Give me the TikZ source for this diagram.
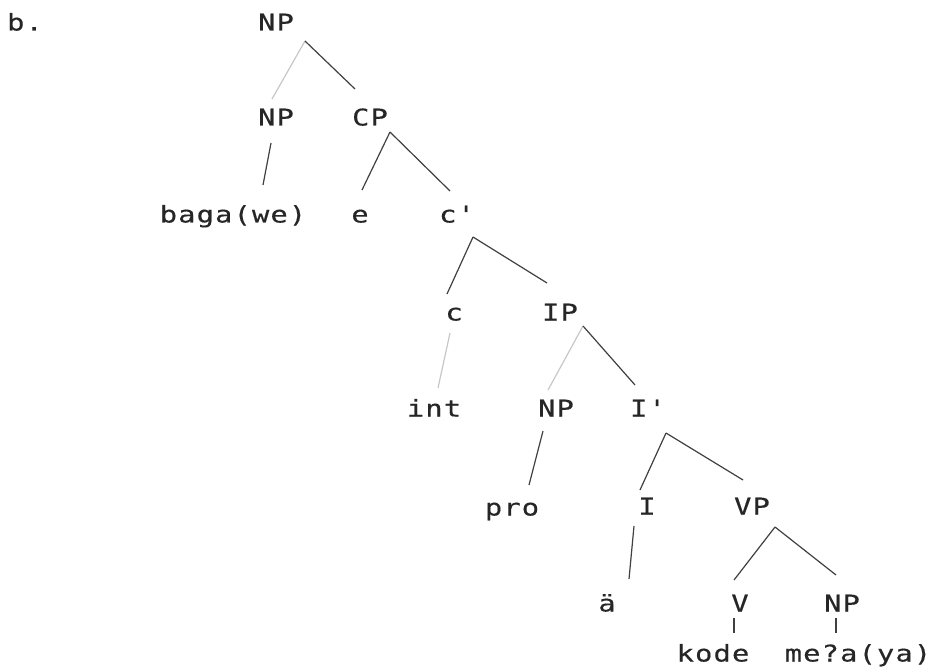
\documentclass[tikz,border=0pt]{standalone}
\usepackage{fontspec}
\usetikzlibrary{calc}
\newfontfamily\treefont[FakeStretch=1.25,LetterSpace=5,FakeBold=0.4]{DejaVu Sans Mono}
\tikzset{
	label/.style={inner sep=0pt,text height=8.5pt,text depth=0pt,text=black!85,font=\treefont\fontsize{11.5}{13}\selectfont},
	branch/.style={color=black!75,line width=0.6pt},
	faint/.style={color=black!22,line width=0.6pt}
}
\begin{document}
\begin{tikzpicture}[x=0.5pt,y=-0.5pt]
	\useasboundingbox[fill=white] (0,0) rectangle (936,668);
	% labels, row by row
	\node[label] (tag) at (25,22) {b.};
	\node[label] (np0) at (276,22) {NP};
	\node[label] (np1) at (276,117) {NP};
	\node[label] (cp) at (370,117) {CP};
	\node[label] (baga) at (233,214) {baga(we)};
	\node[label] (e) at (360,214) {e};
	\node[label] (cbar) at (457,214) {c'};
	\node[label] (c) at (454,312) {c};
	\node[label] (ip) at (560,312) {IP};
	\node[label] (int) at (434,408) {int};
	\node[label] (np2) at (556,408) {NP};
	\node[label] (ibar) at (648,408) {I'};
	\node[label] (pro) at (512,507) {pro};
	\node[label] (i) at (647,506) {I};
	\node[label] (vp) at (752,506) {VP};
	\node[label] (a) at (607,603) {ä};
	\node[label] (v) at (740,603) {V};
	\node[label] (np3) at (842,603) {NP};
	\node[label] (kode) at (713,653) {kode};
	\node[label] (mea) at (858,653) {me?a(ya)};
	% branches
	\draw[faint] ($(np0)+(29,19)$) -- ($(np1)+(-4,-18)$);
	\draw[branch] ($(np0)+(29,19)$) -- ($(cp)+(-15,-28)$);
	\draw[branch] ($(np1)+(-5,26)$) -- ($(baga)+(30,-29)$);
	\draw[branch] ($(cp)+(20,15)$) -- ($(e)+(2,-24)$);
	\draw[branch] ($(cp)+(20,15)$) -- ($(cbar)+(-7,-23)$);
	\draw[branch] ($(cbar)+(16,23)$) -- ($(c)+(-7,-18)$);
	\draw[branch] ($(cbar)+(16,23)$) -- ($(ip)+(-13,-29)$);
	\draw[faint] ($(c)+(-4,21)$) -- ($(int)+(4,-20)$);
	\draw[faint] ($(ip)+(23,14)$) -- ($(np2)+(-8,-18)$);
	\draw[branch] ($(ip)+(23,14)$) -- ($(ibar)+(-13,-23)$);
	\draw[branch] ($(np2)+(-13,23)$) -- ($(pro)+(17,-22)$);
	\draw[branch] ($(ibar)+(18,25)$) -- ($(i)+(-7,-16)$);
	\draw[branch] ($(ibar)+(18,25)$) -- ($(vp)+(-9,-26)$);
	\draw[branch] ($(i)+(-13,20)$) -- ($(a)+(22,-24)$);
	\draw[branch] ($(vp)+(23,21)$) -- ($(v)+(-6,-23)$);
	\draw[branch] ($(vp)+(23,21)$) -- ($(np3)+(-6,-28)$);
	\draw[branch] ($(v)+(-6,15)$) -- ($(kode)+(21,-20)$);
	\draw[branch] ($(np3)+(-6,15)$) -- ($(mea)+(-22,-20)$);
\end{tikzpicture}
\end{document}
